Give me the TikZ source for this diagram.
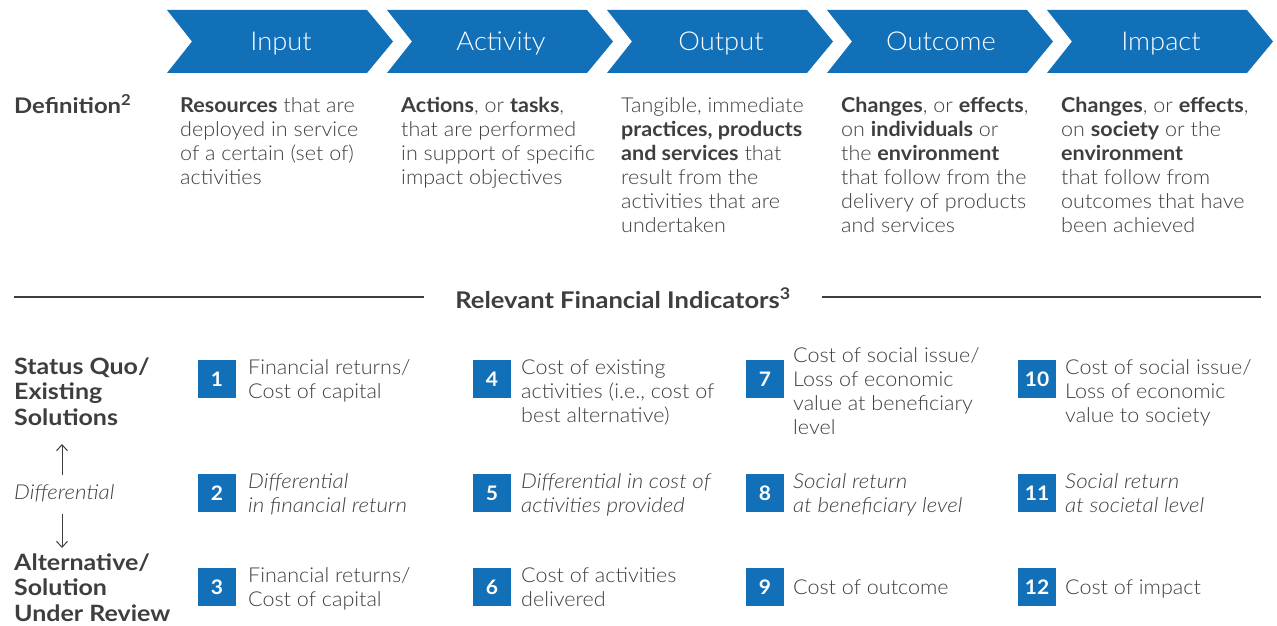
\documentclass[tikz,border=0pt]{standalone}
\usepackage{fontspec}
\setmainfont{Lato Light}[BoldFont={Lato Bold},ItalicFont={Lato Light Italic},BoldItalicFont={Lato Bold Italic},FakeStretch=1.05]
\newfontfamily\headfont{Lato Bold}[FakeStretch=1.11]
\newfontfamily\itfont{Lato Light Italic}[FakeStretch=1.09]
\usetikzlibrary{arrows.meta}
\definecolor{cblue}{HTML}{1170B8}
\definecolor{ctext}{HTML}{3E3E3E}
\tikzset{
  chev/.style={fill=cblue},
  chevlabel/.style={anchor=base,text=white,inner sep=0,font=\fontsize{26}{30}\selectfont},
  deftext/.style={anchor=north west,inner sep=0,align=left,text=ctext,font=\fontsize{20.5}{24}\selectfont},
  itext/.style={deftext,font=\itfont\fontsize{20.5}{24}\selectfont},
  rowlabel/.style={anchor=north west,inner sep=0,align=left,text=ctext,font=\headfont\fontsize{22.5}{25.5}\selectfont},
  numbox/.style={fill=cblue,text=white,minimum size=38pt,inner sep=0,font=\bfseries\fontsize{20}{22}\selectfont},
  rule/.style={draw=ctext,line width=2.8pt},
  diffarrow/.style={draw=ctext,line width=1pt,-{Straight Barb[length=6pt,width=11pt]}}
}
\begin{document}
\begin{tikzpicture}[x=1pt,y=-1pt]
\useasboundingbox (0,0) rectangle (1277,626);
% chevrons
\foreach \L/\t/\n in {167/Input/cInput,387/Activity/cActivity,607/Output/cOutput,827/Outcome/cOutcome,1047/Impact/cImpact}{
  \fill[chev] (\L,10) -- ({\L+200},10) -- ({\L+226},41.5) -- ({\L+200},73) -- (\L,73) -- ({\L+25},41.5) -- cycle;
  \node[chevlabel] (\n) at ({\L+114},51) {\t};
}
% definitions
\node[anchor=base west,inner sep=0,text=ctext,font=\headfont\fontsize{21.5}{24}\selectfont] (defl) at (14,113) {Definition\textsuperscript{2}};
\node[deftext] (d1) at (180,95) {\strut\textbf{Resources} that are\\deployed in service\\of a certain (set of)\\activities};
\node[deftext] (d2) at (401,95) {\strut\textbf{Actions}, or \textbf{tasks},\\that are performed\\in support of specific\\impact objectives};
\node[deftext] (d3) at (621,95) {\strut Tangible, immediate\\\textbf{practices, products}\\\textbf{and services} that\\result from the\\activities that are\\undertaken};
\node[deftext] (d4) at (841,95) {\strut\textbf{Changes}, or \textbf{effects},\\on \textbf{individuals} or\\the \textbf{environment}\\that follow from the\\delivery of products\\and services};
\node[deftext] (d5) at (1061,95) {\strut\textbf{Changes}, or \textbf{effects},\\on \textbf{society} or the\\\textbf{environment}\\that follow from\\outcomes that have\\been achieved};
% section title with rules
\node[inner sep=0,outer sep=31pt,text=ctext,font=\headfont\fontsize{23}{26}\selectfont] (rfi) at (623,298) {Relevant Financial Indicators\textsuperscript{3}};
\coordinate (ruleL) at (14,297);
\coordinate (ruleR) at (1261,297);
\draw[rule] (ruleL) -- (ruleL -| rfi.west);
\draw[rule] (ruleR -| rfi.east) -- (ruleR);
% row labels
\node[rowlabel] (sq) at (14,356) {\strut Status Quo/\\Existing\\Solutions};
\node[anchor=base west,inner sep=0,text=ctext,font=\itfont\fontsize{20.5}{24}\selectfont] (diff) at (14,499.5) {Differential};
\node[rowlabel] (alt) at (14,552) {\strut Alternative/\\Solution\\Under Review};
\coordinate (upA) at (62,475);
\coordinate (upB) at (62,444);
\coordinate (dnA) at (62,514);
\coordinate (dnB) at (62,548);
\draw[diffarrow] (upA) -- (upB);
\draw[diffarrow] (dnA) -- (dnB);
% number boxes
\node[numbox] (n1) at (217,379) {1};
\node[numbox] (n2) at (217,493) {2};
\node[numbox] (n3) at (217,587) {3};
\node[numbox] (n4) at (492,379) {4};
\node[numbox] (n5) at (492,493) {5};
\node[numbox] (n6) at (492,587) {6};
\node[numbox] (n7) at (765,379) {7};
\node[numbox] (n8) at (765,493) {8};
\node[numbox] (n9) at (765,587) {9};
\node[numbox] (n10) at (1037,379) {10};
\node[numbox] (n11) at (1037,493) {11};
\node[numbox] (n12) at (1037,587) {12};
% indicator texts
\node[deftext] (t1) at (248,357) {\strut Financial returns/\\Cost of capital};
\node[itext] (t2) at (248,471) {\strut Differential\\in financial return};
\node[deftext] (t3) at (248,565) {\strut Financial returns/\\Cost of capital};
\node[deftext] (t4) at (521,357) {\strut Cost of existing\\activities (i.e., cost of\\best alternative)};
\node[itext] (t5) at (521,471) {\strut Differential in cost of\\activities provided};
\node[deftext] (t6) at (521,565) {\strut Cost of activities\\delivered};
\node[deftext] (t7) at (793,345) {\strut Cost of social issue/\\Loss of economic\\value at beneficiary\\level};
\node[itext] (t8) at (793,471) {\strut Social return\\at beneficiary level};
\node[deftext] (t9) at (793,577) {\strut Cost of outcome};
\node[deftext] (t10) at (1065,357) {\strut Cost of social issue/\\Loss of economic\\value to society};
\node[itext] (t11) at (1065,471) {\strut Social return\\at societal level};
\node[deftext] (t12) at (1065,577) {\strut Cost of impact};
\end{tikzpicture}
\end{document}
